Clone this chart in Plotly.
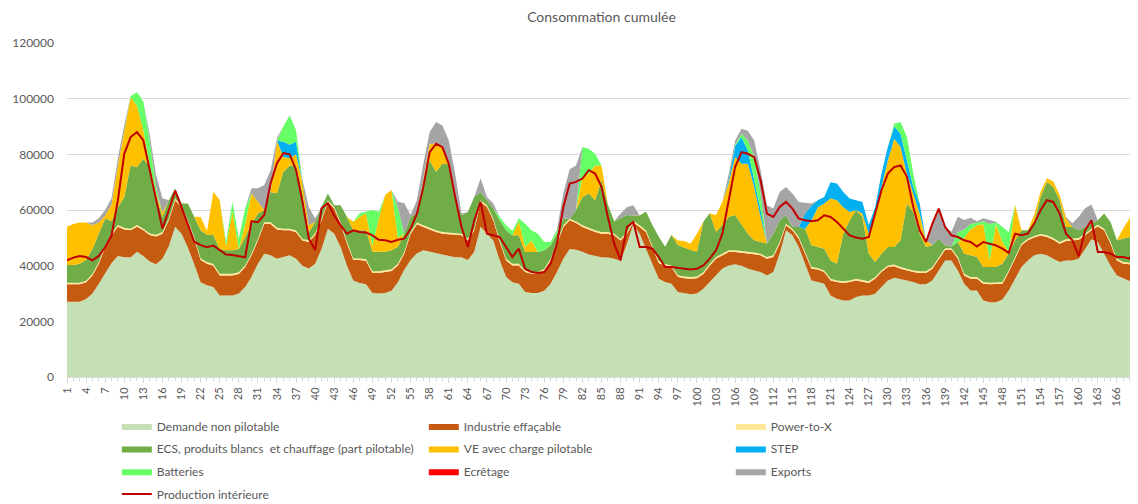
import numpy as np
import plotly.graph_objects as go

# Heures de la semaine
heures = list(range(1, 170))

# Haut de chaque couche cumulée (en GW)
niveau_demande = [
    27, 27, 27, 28, 30, 33.5, 37.5, 41, 43.5, 43,
    43, 45, 43.5, 41.5, 40.5, 42.5, 47, 54, 51.5, 46.5,
    40.5, 34, 33, 32.3, 29.3, 29.3, 29.3, 30, 32.3, 36,
    40.7, 44.3, 43.7, 42.5, 43, 43.7, 42.5, 40, 39, 40.7,
    46, 53.3, 51.5, 46.7, 40, 34.7, 33.8, 33.3, 30.2, 30,
    30.2, 31, 34, 38.5, 42, 44.5, 45.5, 45, 44.5, 44,
    43.5, 43, 43, 42, 45, 54, 51.5, 49, 42, 36,
    34, 33.5, 30.5, 30.2, 30.2, 31, 33.5, 37.7, 42.5, 46,
    45.7, 45, 44, 43.4, 43, 42.9, 42.5, 41.7, 47.9, 55,
    51.5, 46, 40.7, 35.3, 34.1, 33.5, 30.5, 30, 29.7, 30,
    31.7, 34.1, 36.5, 39, 40.1, 40.5, 40, 39, 38.3, 37.7,
    36.5, 37.7, 44.3, 52.7, 50.9, 46.7, 40.7, 34.7, 34.1, 33.5,
    29.3, 28.1, 27.5, 27.5, 28.7, 29.3, 29.3, 29.9, 32.3, 34.7,
    35.7, 35.3, 34.7, 34.1, 33.3, 33.3, 34.7, 38.3, 41.9, 41.9,
    38.3, 33.5, 31.1, 31.1, 27.5, 26.9, 26.9, 27.8, 31.1, 35.3,
    39.5, 41.9, 43.7, 44.3, 43.7, 42.5, 41.3, 41.9, 41.9, 42.5,
    46, 49.5, 48.5, 44, 40, 36.5, 35.5, 34.5, 30.5,
]

niveau_industrie = [
    33.3, 33.3, 33.3, 34, 36.5, 40.7, 46.7, 51, 54, 53,
    52.7, 54, 52.7, 51, 50.5, 51.5, 56.3, 63.5, 61, 55.7,
    49.7, 42, 40.7, 40, 36.5, 36.5, 36.5, 37, 39.5, 43.7,
    49, 55, 55, 53, 52.7, 52.7, 52, 49, 48.5, 51,
    56.3, 62.9, 60.5, 55, 48, 42, 42, 41.7, 37.4, 37.4,
    37.7, 38.1, 40.1, 44.3, 51.5, 54.9, 53.9, 52.9, 52.1, 51.5,
    51.3, 51.1, 50.9, 49.1, 52.7, 62.9, 61.1, 56.3, 48.5, 41.9,
    40.1, 40.1, 37.7, 37.1, 37.1, 38.3, 41.9, 47.9, 53.9, 56.3,
    55.3, 53.9, 52.9, 52.1, 51.5, 51.5, 50.9, 49, 51.5, 55.5,
    53.9, 52, 46.5, 41, 40, 39.5, 36, 35.5, 35.3, 35.5,
    37, 40, 42.5, 43.7, 44.9, 44.9, 44.7, 44.3, 44.1, 43.7,
    42.5, 43.1, 47.9, 54.5, 52.7, 49.7, 44.3, 38.9, 38.6, 37.7,
    34.7, 34.1, 33.8, 34.1, 34.7, 34.3, 33.8, 35.3, 37.7, 39.5,
    39.8, 38.9, 38.3, 37.7, 37.4, 37.4, 38.9, 42.5, 45.7, 45.7,
    42.5, 36.5, 35.3, 35.3, 33.5, 33.3, 33.3, 33.5, 37.7, 42.5,
    47.3, 49.1, 50.1, 50.8, 50.3, 49.3, 47.9, 48.9, 49.1, 49.3,
    50.9, 52.7, 54.1, 52.7, 47.9, 41.9, 40.7, 40.5, 35.9,
]

niveau_ecs = [
    40.2, 40.2, 40.7, 42, 46, 51.5, 57, 56, 61, 64.7,
    76, 75.4, 78.4, 75.4, 65, 57.5, 63.5, 67.7, 62.3, 62.3,
    57.5, 52.7, 51, 51, 46, 45.5, 45.5, 46, 50.3, 55,
    58.7, 60, 66.5, 66, 73.7, 76, 76, 66, 52, 55.7,
    61, 65.9, 61.7, 61.7, 57.5, 52.7, 52.7, 52.7, 45, 45,
    45, 45.5, 46.7, 51.5, 57.5, 58.7, 70.1, 77.8, 73.7, 76.6,
    76.4, 63.5, 58.1, 59.3, 64.7, 66.5, 63.5, 60.5, 56.3, 52.7,
    50.9, 50.9, 44.9, 44.9, 44.9, 45.5, 47.3, 51.5, 56.9, 56.3,
    59.9, 64.7, 65.9, 63.5, 70.7, 62, 56, 57, 58.2, 58,
    58, 59.5, 54.6, 50.4, 46.8, 51, 47.4, 46.5, 45.6, 45,
    55.8, 58.8, 52.2, 54.6, 57.6, 58.2, 55, 51.5, 49.1, 48.5,
    48, 51.5, 56.3, 58.1, 53.9, 53.9, 53.3, 47.3, 46.7, 46.1,
    41.9, 40.7, 51.5, 56.3, 59.9, 57.5, 44.3, 41.3, 44.3, 46.7,
    46.7, 49.1, 62.3, 59.3, 51.5, 46.7, 47.3, 49.7, 47.3, 46.9,
    48.5, 44.3, 43.7, 43.1, 39.5, 39.5, 39.5, 40.7, 44.3, 49.1,
    52.7, 52.7, 55.7, 64.7, 70.1, 68.3, 63.5, 53.9, 53.9, 52.7,
    53.9, 55.1, 56.3, 58.7, 55.7, 49.1, 49.7, 50.3, 43.7,
]

niveau_ve = [
    54, 55, 55.5, 55.5, 54.5, 55.5, 58, 62, 76, 88,
    100.5, 97.5, 88.7, 76, 66, 59, 63.5, 67.7, 62.3, 62.3,
    57.6, 57.5, 52.5, 66.6, 63.6, 47, 59.4, 46, 55, 66,
    63, 60, 66.5, 85, 79, 78.6, 80, 70, 54.5, 55.7,
    61, 65.9, 61.7, 61.7, 57.5, 55.8, 57.6, 58.8, 47, 57,
    65.4, 67.2, 50, 51.5, 57.5, 58.7, 70.7, 83.8, 83.8, 82.6,
    76.6, 63.5, 58.1, 59.3, 64.7, 66.5, 63.5, 60.5, 56.3, 52.7,
    50.9, 56, 46.7, 49, 44.9, 45.5, 47.3, 51.5, 56.9, 56.3,
    59.9, 71.9, 73.1, 76, 76, 62, 56, 57, 58.2, 58,
    58, 59.5, 54.6, 50.4, 46.8, 51, 49, 48.9, 47.9, 51.5,
    55.8, 58.8, 58.2, 63, 70, 79, 76.6, 76.6, 68.3, 57.5,
    48, 51.5, 56.3, 58.1, 53.9, 53.9, 53.3, 56.3, 61, 62.3,
    64.1, 63.5, 61, 59.3, 59.9, 58.7, 51.5, 58.7, 68.3, 77.8,
    85.6, 82.6, 73, 65.9, 58.7, 49.1, 47.3, 49.7, 47.3, 46.9,
    48.5, 50, 53, 54.5, 55, 42, 55, 48.6, 45, 61.8,
    52.8, 52.7, 58.2, 66.6, 71.4, 70.2, 65.4, 57, 53.9, 52.7,
    53.9, 55.1, 56.3, 58.7, 55.7, 49.1, 53.4, 57, 61.2,
]

# Couches fines du haut : valeurs propres (GW)
power_to_x = [0.6] * 169
step = [
    0, 0, 0, 0, 0, 0, 0, 0, 0, 0,
    0, 0, 0, 0, 0, 0, 0, 0, 0, 0,
    0, 0, 0, 0, 0, 0, 0, 0, 0, 0,
    0, 0, 0, 0, 5.5, 4.8, 4.5, 0, 0, 0,
    0, 0, 0, 0, 0, 0, 0, 0, 0, 0,
    0, 0, 0, 0, 0, 0, 0, 0, 0, 0,
    0, 0, 0, 0, 0, 0, 0, 0, 0, 0,
    0, 0, 0, 0, 0, 0, 0, 0, 0, 0,
    0, 0, 0, 0, 0, 0, 0, 0, 0, 0,
    0, 0, 0, 0, 0, 0, 0, 0, 0, 0,
    0, 0, 0, 0, 1, 4, 9.6, 4.8, 2.7, 2.5,
    0, 0, 0, 0, 0, 0, 5.4, 5.2, 2.5, 2.4,
    5.9, 6, 5.5, 4.8, 3.6, 4.2, 3.1, 2.3, 4.7, 4.8,
    4.4, 4.8, 4.8, 2.4, 3.6, 0, 0, 0, 0, 0,
    0, 0, 0, 0, 0, 0, 0, 0, 0, 0,
    0, 0, 0, 0, 0, 0, 0, 0, 0, 0,
    0, 0, 0, 0, 0, 0, 0, 0, 0,
]
batteries = [
    0, 0, 0, 0, 0, 0, 0, 0, 0, 0,
    0.5, 4.8, 10.3, 9, 2, 0, 0, 0, 0, 0,
    0, 0, 0, 0, 0, 1.6, 3.6, 3.8, 5.6, 0,
    0, 0, 0, 0, 5.5, 10.6, 4.1, 0, 0, 0,
    0, 0, 0, 0, 0, 0, 1.2, 0.6, 13, 2.4,
    0, 0, 11, 0, 0, 0, 0, 0, 0, 0,
    0, 0, 0, 0, 0, 0, 0, 0, 1.2, 1.8,
    1.6, 1, 8.4, 3.7, 6.6, 3, 1.2, 1, 0, 0,
    0, 10.7, 8.9, 4.2, 0, 0, 0, 0, 0, 0,
    0, 0, 0, 0, 0, 0, 0, 0, 0, 0,
    0, 0, 0, 0, 0, 0.5, 1.2, 3.6, 8, 6,
    0, 0, 0, 0, 0, 0, 0, 0, 0, 0,
    0, 0, 0, 0, 0, 0, 0, 0, 0, 0,
    1, 4.2, 8.4, 4.7, 0, 0, 0, 0, 0, 0,
    3.5, 3, 2, 1, 1, 13, 0.5, 5.4, 7, 0,
    0, 0, 0, 0, 0, 0, 0, 0, 0, 0,
    0, 0, 0, 0, 0, 0, 0, 0, 0,
]
ecretage = [0] * 169
exports = [
    0, 0, 0, 0, 1, 1.5, 2, 2.2, 2.6, 2.5,
    0, 0, 0, 2, 4.6, 5.2, 0, 0, 0, 0,
    0, 0, 0, 0, 0, 0, 0, 0, 0, 1.8,
    4.8, 9, 7.8, 1, 0, 0, 0, 1, 6.5, 1.3,
    0, 0, 0, 0, 0, 0, 0, 0, 0, 0,
    0, 0, 2, 10.9, 0.7, 4.8, 5.9, 4.2, 7.8, 7.8,
    8.4, 9.5, 0.6, 0, 0, 4.8, 1.2, 1.8, 0, 0,
    0, 0, 0, 0, 0, 0, 0, 0.5, 9.1, 17.7,
    16.1, 0, 0, 0, 0, 0, 0, 1.7, 2.8, 3.7,
    0, 0, 0, 0, 0, 0, 0, 0, 0, 0,
    0, 0, 0, 0, 2, 1.5, 1.8, 3.5, 6, 8.3,
    13.7, 9, 10.2, 10.2, 12, 9, 3.8, 0.8, 0, 0,
    0, 0, 0, 0, 0, 0, 0, 0, 0, 0,
    0, 0, 0, 0, 0, 0, 7.7, 10.9, 6.7, 5.3,
    5.6, 3.4, 2.2, 0.5, 1, 1.4, 0.3, 0, 0, 0,
    0, 0, 0, 0, 0, 0, 0, 0.6, 1.3, 4.9,
    6.7, 6.9, 0, 0, 0, 0, 0, 0, 0,
]

production = [
    41.9, 42.9, 43.5, 43.1, 41.9, 43.5, 46.7, 50.9, 63.5, 80.2,
    86.2, 88, 85, 74.3, 63.5, 53.3, 59.9, 67, 61, 55,
    48.6, 47.4, 46.6, 47.2, 45.6, 44, 43.8, 43.5, 43, 56,
    55.6, 58.2, 69.6, 76.8, 80.4, 80, 74.4, 63, 49.8, 45.6,
    60.6, 62.4, 58, 54.5, 51.5, 52.7, 52.1, 51.9, 50.9, 49.3,
    49.1, 48.5, 49.3, 49.7, 53.3, 58.7, 68.3, 80.8, 83.8, 82.6,
    76.6, 64.7, 53.9, 46.7, 56.3, 62.9, 51.5, 50.9, 50.3, 46.7,
    43.1, 46.1, 38.9, 37.7, 37.4, 37.7, 40.7, 47.9, 61, 69.5,
    70.1, 71.3, 74.3, 73.1, 68.3, 57.5, 47.9, 41.9, 53.9, 55.7,
    46.7, 46.7, 46.1, 43.1, 39.5, 39.5, 39.3, 38.9, 38.6, 38.9,
    40.1, 42.5, 45.5, 51.5, 63.5, 75.4, 80.8, 80.2, 79, 70.7,
    58.7, 57.5, 61.1, 62.9, 60.5, 56.9, 56.3, 56, 56.3, 58.1,
    57.5, 55.7, 53.3, 50.9, 50.1, 49.7, 50.3, 58.7, 67.1, 73.1,
    75.4, 76, 71.9, 61.1, 52.7, 48.5, 55.1, 60.5, 53.9, 50.9,
    50.3, 49.1, 48.5, 46.9, 48.5, 47.9, 47.3, 46.1, 44.6, 51.5,
    50.9, 51.5, 55.1, 59.9, 63.5, 62.9, 58.7, 51.5, 49.1, 43.4,
    52.7, 56.3, 44.9, 44.9, 44.3, 43.1, 43.1, 42.5, 47.3,
]

# Valeurs propres de chaque couche
dem = np.array(niveau_demande)
ind = np.array(niveau_industrie)
ptx = np.array(power_to_x)
ecs = np.array(niveau_ecs)
ve = np.array(niveau_ve)

# (nom, valeurs, couleur, ligne de légende)
couches = [
    ('Demande non pilotable', dem, '#C5E0B4', 'legend'),
    ('Industrie effaçable', np.clip(ind - dem, 0, None), '#C55A11', 'legend'),
    ('Power-to-X', ptx, '#FFE699', 'legend'),
    ('ECS, produits blancs  et chauffage (part pilotable)', np.clip(ecs - ind - ptx, 0, None), '#70AD47', 'legend2'),
    ('VE avec charge pilotable', np.clip(ve - ecs, 0, None), '#FFC000', 'legend2'),
    ('STEP', np.array(step), '#00B0F0', 'legend2'),
    ('Batteries', np.array(batteries), '#66FF66', 'legend3'),
    ('Ecrêtage', np.array(ecretage), '#FF0000', 'legend3'),
    ('Exports', np.array(exports), '#A5A5A5', 'legend3'),
]

fig = go.Figure()

for nom, vals, couleur, leg in couches:
    fig.add_trace(go.Scatter(
        x=heures,
        y=vals * 1000,
        name=nom,
        mode='lines',
        stackgroup='conso',
        line=dict(width=0, color=couleur),
        fillcolor=couleur,
        legend=leg,
    ))

fig.add_trace(go.Scatter(
    x=heures,
    y=np.array(production) * 1000,
    name='Production intérieure',
    mode='lines',
    line=dict(color='#C00000', width=2),
    legend='legend4',
))

graduations = list(range(1, 170, 3))

# une légende par ligne, pour caler l'espacement vertical
def legende(y):
    return dict(
        orientation='h',
        x=0.0466, xanchor='left',
        y=y, yanchor='top',
        entrywidth=262,
        entrywidthmode='pixels',
        traceorder='normal',
        font=dict(size=12, color='#595959'),
        bgcolor='rgba(0,0,0,0)',
    )

# la page ajoute une marge de 8 px autour du graphique
fig.update_layout(
    width=1130,
    height=496,
    margin=dict(l=59, r=2, t=35, b=127, autoexpand=False),
    paper_bgcolor='white',
    plot_bgcolor='white',
    font=dict(family='Lato, Liberation Sans, sans-serif', size=12, color='#595959'),
    title=dict(
        text='Consommation cumulée',
        x=0.5, xref='paper', xanchor='center',
        y=0.982, yref='container', yanchor='middle',
        font=dict(size=14, color='#595959'),
    ),
    xaxis=dict(
        range=[1, 169],
        automargin=False,
        tickmode='array',
        tickvals=graduations,
        ticktext=[str(h) for h in graduations],
        tickangle=-90,
        ticks='outside',
        ticklen=5,
        tickcolor='#D9D9D9',
        showline=True,
        linecolor='#D9D9D9',
        showgrid=False,
        zeroline=False,
        tickfont=dict(size=11),
        minor=dict(tickmode='linear', tick0=1, dtick=1, ticks='outside',
                   ticklen=3, tickcolor='#D9D9D9'),
    ),
    yaxis=dict(
        range=[0, 120000],
        automargin=False,
        dtick=20000,
        tickformat='d',
        showgrid=True,
        gridcolor='#D9D9D9',
        zeroline=False,
        ticklabelstandoff=12,
        tickfont=dict(size=12),
    ),
    legend=legende(-0.103),
    legend2=legende(-0.171),
    legend3=legende(-0.239),
    legend4=legende(-0.307),
    hovermode='x unified',
    showlegend=True,
)

fig.write_html('out.html')
